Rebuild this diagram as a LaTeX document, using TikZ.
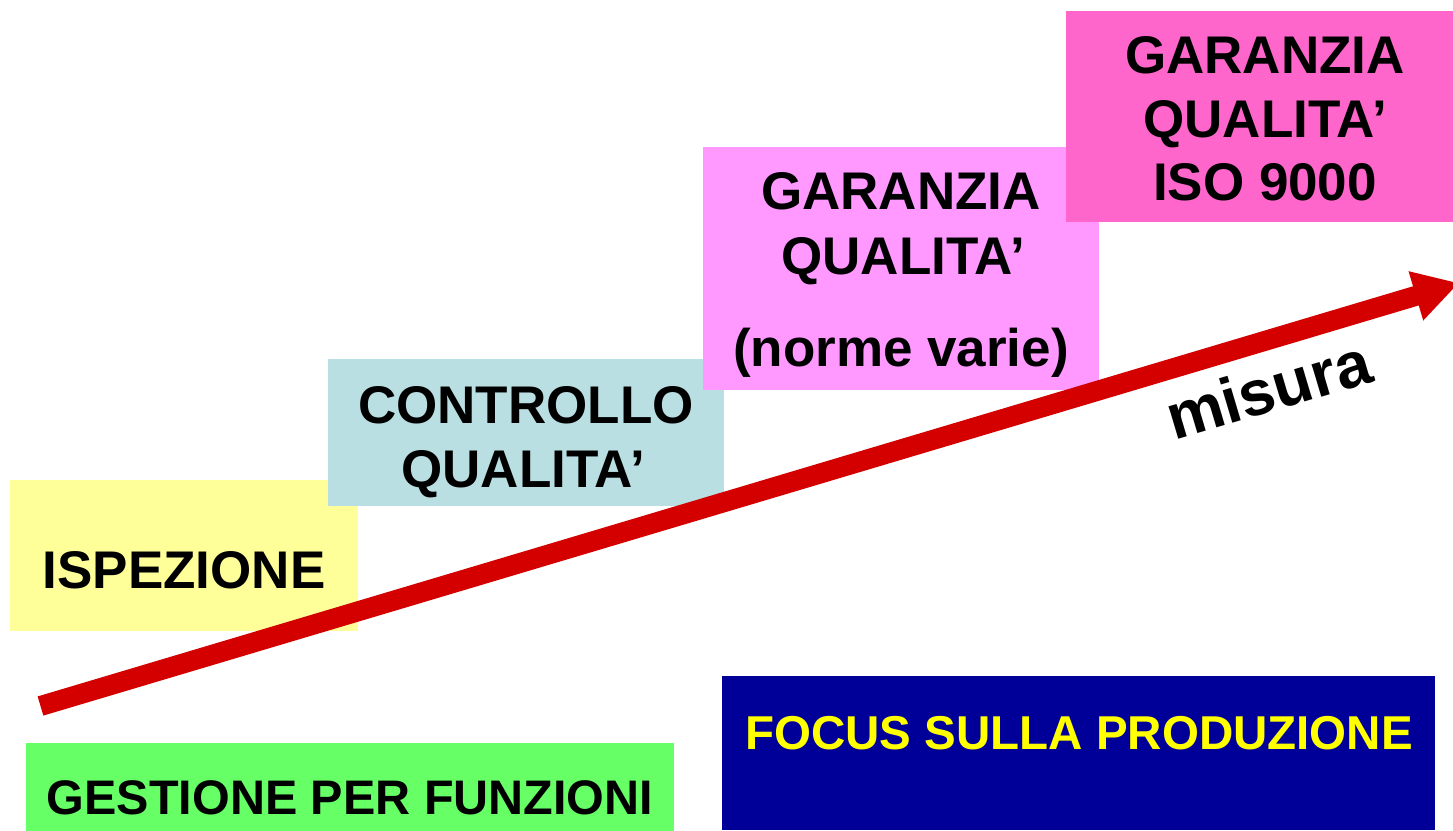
\documentclass[tikz,border=0pt]{standalone}
\usepackage{fontspec}
\setmainfont{Liberation Sans}
\usetikzlibrary{arrows.meta}
\definecolor{cyel}{HTML}{FFFF99}
\definecolor{cblue}{HTML}{BADFE2}
\definecolor{cpink}{HTML}{FF99FF}
\definecolor{cmag}{HTML}{FF66CC}
\definecolor{cgreen}{HTML}{66FF66}
\definecolor{cnavy}{HTML}{000099}
\definecolor{cred}{HTML}{D40000}
\definecolor{ctxtyel}{HTML}{FFFF00}
\begin{document}
\begin{tikzpicture}[x=1pt,y=-1pt,
  box/.style={draw=none, inner sep=0pt, outer sep=0pt},
  big/.style={font=\fontsize{53}{64}\bfseries\selectfont, anchor=base, inner sep=0pt},
  mid/.style={font=\fontsize{47.5}{56}\bfseries\selectfont, anchor=base, inner sep=0pt},
  bigarrow/.style={draw=cred, line width=20pt, -{Triangle[length=45pt,width=48pt]}}]
\useasboundingbox (0,0) rectangle (1453,830);
\fill[white] (0,0) rectangle (1453,830);
% boxes
\node[box, fill=cyel, minimum width=348pt, minimum height=151pt] (isp) at (184,555.5) {};
\node[box, fill=cblue, minimum width=396pt, minimum height=147pt] (ctl) at (526,432.5) {};
\node[box, fill=cpink, minimum width=396pt, minimum height=243pt] (gq) at (901,268.5) {};
\node[box, fill=cmag, minimum width=387pt, minimum height=211pt] (iso) at (1259.5,116.5) {};
\node[box, fill=cgreen, minimum width=648pt, minimum height=88pt] (gest) at (350,787) {};
\node[box, fill=cnavy, minimum width=713pt, minimum height=154pt] (focus) at (1078.5,753) {};
% texts
\node[big] (tisp) at (184,588) {ISPEZIONE};
\node[big] (tctl1) at (526,423) {CONTROLLO};
\node[big] (tctl2) at (523,487) {QUALITA’};
\node[big] (tgq1) at (901,209) {GARANZIA};
\node[big] (tgq2) at (903,274) {QUALITA’};
\node[big] (tgq3) at (901,366) {(norme varie)};
\node[big] (tiso1) at (1265,73) {GARANZIA};
\node[big] (tiso2) at (1265,137) {QUALITA’};
\node[big] (tiso3) at (1265,200) {ISO 9000};
\node[mid, text=ctxtyel] (tfocus) at (1079,749) {FOCUS SULLA PRODUZIONE};
\node[mid, font=\fontsize{48.5}{56}\bfseries\selectfont] (tgest) at (350,814) {GESTIONE PER FUNZIONI};
% arrow
\coordinate (astart) at (40.5,706);
\coordinate (aend) at (1459,283);
\draw[bigarrow] (astart) -- (aend);
\node[font=\fontsize{64}{72}\bfseries\selectfont, anchor=base west, inner sep=0pt, rotate=16.6] (misura) at (1174,441) {misura};
\end{tikzpicture}
\end{document}
